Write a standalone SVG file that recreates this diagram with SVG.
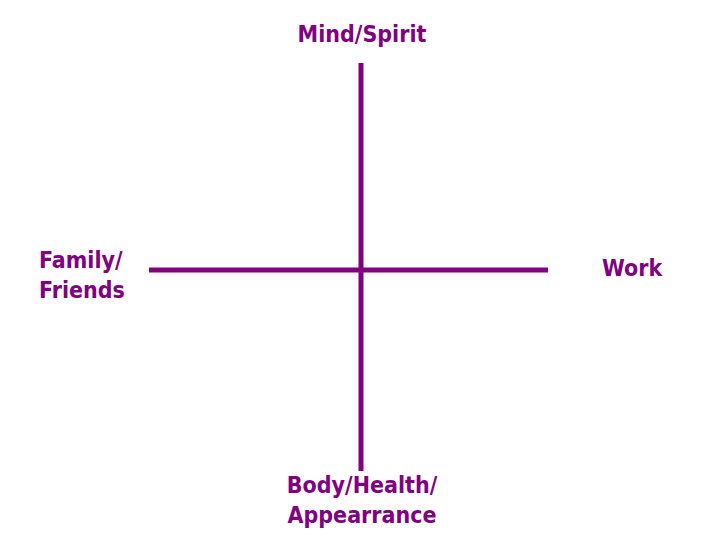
<svg xmlns="http://www.w3.org/2000/svg" width="703" height="546" viewBox="0 0 703 546">
<style>
.lbl{font-family:"DejaVu Sans Condensed","DejaVu Sans","Liberation Sans",sans-serif;font-weight:bold;font-size:23px;fill:#800080}
.axis{stroke:#800080;stroke-width:5;fill:none}
</style>
<rect width="703" height="546" fill="#ffffff"/>
<g id="connectors">
<line class="axis" x1="361" y1="63" x2="361" y2="471"/>
<line class="axis" x1="149" y1="270" x2="548" y2="270"/>
</g>
<g id="mind"><text class="lbl" x="362" y="42" text-anchor="middle">Mind/Spirit</text></g>
<g id="family"><text class="lbl" x="39" y="268">Family/</text><text class="lbl" x="39" y="298">Friends</text></g>
<g id="work"><text class="lbl" x="602" y="276">Work</text></g>
<g id="body"><text class="lbl" x="362" y="493" text-anchor="middle">Body/Health/</text><text class="lbl" x="362" y="523" text-anchor="middle">Appearrance</text></g>
</svg>
